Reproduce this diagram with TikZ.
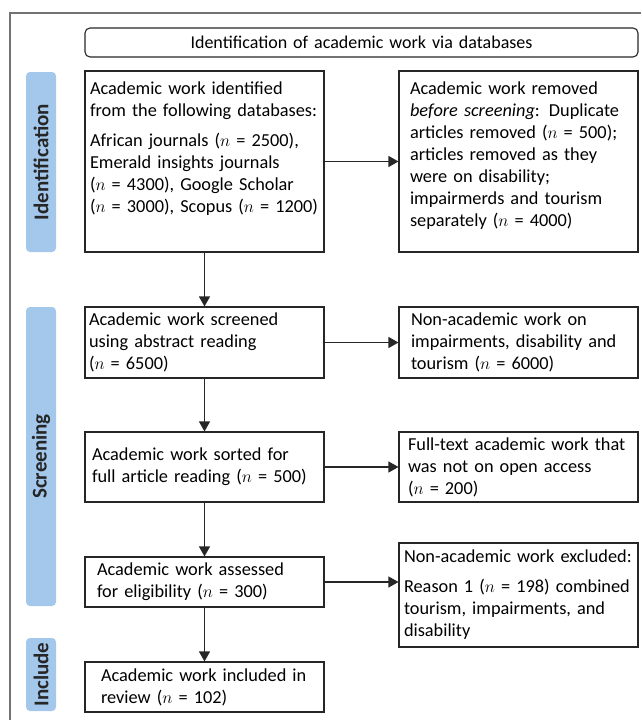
\documentclass[tikz,border=0pt]{standalone}
\usepackage{fontspec}
\setmainfont{Carlito}
\usetikzlibrary{arrows.meta}
\definecolor{phaseblue}{HTML}{A4C8EC}
\begin{document}
\begin{tikzpicture}[x=1pt,y=-1pt,>={Triangle[length=10pt,width=11pt]}]
        \tikzstyle{every node}=[font=\fontsize{18.3}{22}\selectfont]
        \tikzstyle{box}=[draw=black!85,line width=1.1pt,align=left,inner xsep=7pt,text width=225pt]
        \tikzstyle{rbox}=[box,inner xsep=11pt,text width=217pt]
        \tikzstyle{phase}=[fill=phaseblue,rounded corners=4pt,rotate=90,inner sep=0pt,minimum height=30pt,text=black!85,font=\fontsize{21}{22}\selectfont\bfseries]
        \tikzstyle{flow}=[line width=1.1pt,black!85]
        \useasboundingbox (0,0) rectangle (641,720);
        \draw[black!55,line width=1.4pt] (10,720) -- (10,13) -- (641,13);
        \node[box,rounded corners=5pt,align=center,text width=539pt,minimum height=29pt,font=\fontsize{18}{22}\selectfont] (head) at (361.5,42.5) {Identification of academic work via databases};
        \node[phase,minimum width=180pt] (p1) at (41,162) {Identification};
        \node[phase,minimum width=299pt] (p2) at (41,456.5) {Screening};
        \node[phase,minimum width=73pt] (p3) at (41,674.5) {Include};
        \node[box,inner xsep=5pt,text width=229pt,minimum height=181pt] (a1) at (204.5,161.5) {Academic work identified\\from the following databases:\\[8pt]African journals ($n$ = 2500),\\Emerald insights journals\\($n$ = 4300), Google Scholar\\($n$ = 3000), Scopus ($n$ = 1200)\\[6pt]\mbox{}};
        \node[rbox,minimum height=181pt] (r1) at (518.5,161.5) {Academic work removed\\\textit{before screening}: Duplicate\\articles removed ($n$ = 500);\\articles removed as they\\were on disability;\\impairmerds and tourism\\separately ($n$ = 4000)\\[-8pt]\mbox{}}
        edge [<-,flow] (a1);
        \node[box,inner xsep=4pt,text width=231pt,minimum height=71pt] (s1) at (204.5,342.5) {Academic work screened\\using abstract reading\\($n$ = 6500)}
        edge [<-,flow] (a1);
        \node[rbox,inner xsep=12pt,text width=215pt,minimum height=71pt] (r2) at (518.5,342.5) {Non-academic work on\\impairments, disability and\\tourism ($n$ = 6000)}
        edge [<-,flow] (s1);
        \node[box,minimum height=70pt] (s2) at (204.5,467) {Academic work sorted for\\full article reading ($n$ = 500)}
        edge [<-,flow] (s1);
        \node[rbox,inner xsep=9pt,text width=221pt,minimum height=70pt] (r3) at (518.5,467) {Full-text academic work that\\was not on open access\\($n$ = 200)}
        edge [<-,flow] (s2);
        \node[box,inner xsep=12pt,text width=215pt,minimum height=50pt] (s3) at (204.5,582) {Academic work assessed\\for eligibility ($n$ = 300)}
        edge [<-,flow] (s2);
        \node[rbox,inner xsep=5pt,text width=229pt,minimum height=104pt] (r4) at (518.5,595) {Non-academic work excluded:\\[8pt]Reason 1 ($n$ = 198) combined\\tourism, impairments, and\\disability};
        \draw[->,flow] (s3) -- (s3 -| r4.west);
        \node[box,inner xsep=16pt,text width=207pt,minimum height=50pt] (s4) at (204.5,687) {Academic work included in\\review ($n$ = 102)}
        edge [<-,flow] (s3);
      \end{tikzpicture}
\end{document}
